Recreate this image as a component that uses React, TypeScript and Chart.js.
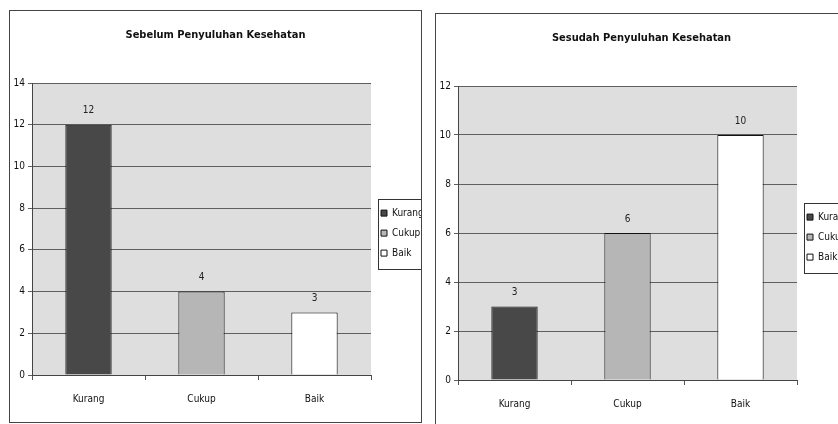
import React, { useEffect, useRef } from "react";
import { Chart, registerables } from "chart.js";

Chart.register(...registerables);

const categories = ["Kurang", "Cukup", "Baik"];
const beforeValues = [12, 4, 3];
const afterValues = [3, 6, 10];
const beforeTitle = "Sebelum Penyuluhan Kesehatan";
const afterTitle = "Sesudah Penyuluhan Kesehatan";
const beforeMax = 14;
const afterMax = 12;
const tickStep = 2;
const barColors = ["#484848", "#b6b6b6", "#ffffff"];

const FONT = "'Liberation Sans Narrow', 'Arial Narrow', 'DejaVu Sans Condensed', Arial, sans-serif";

const plotBgPlugin = {
  id: "plotBg",
  beforeDraw(chart: any) {
    const { ctx, chartArea } = chart;
    ctx.save();
    ctx.fillStyle = "#dedede";
    ctx.fillRect(chartArea.left, chartArea.top, chartArea.right - chartArea.left, chartArea.bottom - chartArea.top);
    ctx.restore();
  },
};

const valueLabelPlugin = {
  id: "valueLabels",
  afterDatasetsDraw(chart: any) {
    const { ctx } = chart;
    const meta = chart.getDatasetMeta(0);
    const data = chart.data.datasets[0].data;
    ctx.save();
    ctx.font = `10px ${FONT}`;
    ctx.fillStyle = "#222";
    ctx.textAlign = "center";
    ctx.textBaseline = "middle";
    meta.data.forEach((bar: any, i: number) => {
      ctx.fillText(String(data[i]), bar.x, bar.y - 14);
    });
    ctx.restore();
  },
};

const legendBoxPlugin = {
  id: "legendBox",
  afterDraw(chart: any) {
    const lg = chart.legend;
    if (!lg || !lg.legendHitBoxes || !lg.legendHitBoxes.length) return;
    const boxes = lg.legendHitBoxes;
    let minX = Infinity, minY = Infinity, maxX = -Infinity, maxY = -Infinity;
    boxes.forEach((b: any) => {
      minX = Math.min(minX, b.left);
      minY = Math.min(minY, b.top);
      maxX = Math.max(maxX, b.left + b.width);
      maxY = Math.max(maxY, b.top + b.height);
    });
    const { ctx } = chart;
    ctx.save();
    ctx.strokeStyle = "#333";
    ctx.lineWidth = 1;
    ctx.strokeRect(Math.round(minX - 3) + 0.5, Math.round(minY - 9) + 0.5, Math.round(maxX - minX + 4), Math.round(maxY - minY + 20));
    ctx.restore();
  },
};

type PanelProps = {
  title: string;
  values: number[];
  max: number;
  left: number;
  top: number;
  width: number;
  height: number;
};

function ChartPanel({ title, values, max, left, top, width, height }: PanelProps) {
  const ref = useRef<HTMLCanvasElement | null>(null);

  useEffect(() => {
    if (!ref.current) return;
    const chart = new Chart(ref.current, {
      type: "bar",
      data: {
        labels: categories,
        datasets: [
          {
            data: values,
            backgroundColor: barColors,
            borderColor: "#111",
            borderWidth: 1,
            categoryPercentage: 1,
            barPercentage: 0.41,
          },
        ],
      },
      options: {
        responsive: false,
        animation: false,
        layout: { padding: 0 },
        plugins: {
          title: {
            display: true,
            text: title,
            color: "#111",
            font: { family: FONT, size: 11, weight: "bold" },
            padding: { top: 17.4, bottom: 41.4 },
          },
          legend: {
            display: true,
            position: "right",
            fullSize: false,
            maxWidth: 50,
            title: { display: true, text: "", color: "#111", font: { size: 1 }, padding: { top: 3.5, bottom: 3.5 } },
            labels: {
              boxWidth: 6,
              boxHeight: 6,
              padding: 10,
              color: "#111",
              font: { family: FONT, size: 10 },
              generateLabels: () =>
                categories.map((c, i) => ({
                  text: c,
                  fillStyle: barColors[i],
                  strokeStyle: "#111",
                  fontColor: "#111",
                  lineWidth: 1,
                  hidden: false,
                  index: i,
                  datasetIndex: 0,
                })),
            },
          },
          tooltip: { enabled: false },
        },
        scales: {
          x: {
            grid: {
              display: true,
              drawOnChartArea: false,
              drawTicks: true,
              tickLength: 5,
              color: "#555",
              offset: true,
            },
            border: { display: true, color: "#444" },
            ticks: { color: "#111", padding: 13, font: { family: FONT, size: 10 } },
            afterFit: (scale: any) => {
              scale.height = 47;
            },
          },
          y: {
            min: 0,
            max: max,
            ticks: { stepSize: tickStep, color: "#111", padding: 3, font: { family: FONT, size: 10 } },
            grid: { color: "#5f5f5f", tickLength: 4, drawTicks: true },
            border: { display: true, color: "#444" },
            afterFit: (scale: any) => {
              scale.width = 22;
            },
          },
        },
      },
      plugins: [plotBgPlugin, valueLabelPlugin, legendBoxPlugin],
    });
    return () => chart.destroy();
  }, [title, values, max]);

  return (
    <div
      style={{
        position: "absolute",
        left,
        top,
        width,
        height,
        border: "1px solid #444",
        background: "#fff",
      }}
    >
      <canvas ref={ref} width={width} height={height} style={{ display: "block", width, height }} />
    </div>
  );
}

export default function App() {
  return (
    <div
      style={{
        position: "absolute",
        left: 0,
        top: 0,
        width: 838,
        height: 424,
        overflow: "hidden",
        background: "#fff",
      }}
    >
      <ChartPanel title={beforeTitle} values={beforeValues} max={beforeMax} left={9} top={10} width={411} height={411} />
      <ChartPanel title={afterTitle} values={afterValues} max={afterMax} left={435} top={13} width={411} height={413} />
    </div>
  );
}
